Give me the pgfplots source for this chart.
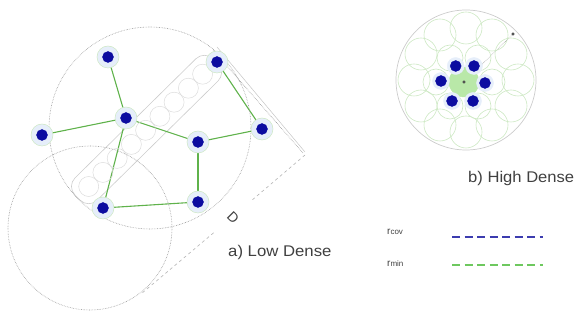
\documentclass[border=0pt]{standalone}
\usepackage{pgfplots}
\pgfplotsset{compat=1.18}
\usepackage{fontspec}
\setmainfont{Liberation Sans}
\definecolor{nodeblue}{RGB}{12,12,160}
\definecolor{edgegreen}{RGB}{95,178,75}
\definecolor{leggreen}{RGB}{110,200,95}
\definecolor{legblue}{RGB}{60,60,175}
\definecolor{palegreen}{RGB}{205,232,195}
\definecolor{dotgray}{RGB}{150,150,150}
\definecolor{halo}{RGB}{230,238,250}
\definecolor{blob}{RGB}{185,232,168}
\begin{document}
\begin{tikzpicture}
\begin{axis}[name=ax, x=1pt,y=1pt,y dir=reverse,xmin=0,xmax=579,ymin=0,ymax=312,hide axis]
% ---------- a) Low Dense ----------
% capsule with small circles
\addplot[gray!40, line width=0.6pt, rounded corners=12pt] coordinates {(88.5,208.7)(226.5,72.7)(204.5,50.3)(66.5,186.3)} -- cycle;
\addplot[gray!28, only marks, mark=o, mark size=10, mark options={gray!28, line width=0.5pt}] coordinates {
(88.7,186.5)(102.9,172.4)(117.2,158.4)(131.4,144.4)(145.6,130.3)(159.9,116.3)(174.1,102.2)(188.4,88.2)(202.6,74.2)};
% large dotted circles
\addplot[dotgray, only marks, mark=o, mark size=101, mark options={dotgray, densely dotted, line width=0.6pt}] coordinates {(150,128)};
\addplot[dotgray, only marks, mark=o, mark size=82, mark options={dotgray, densely dotted, line width=0.6pt}] coordinates {(90,228)};
% D rectangle edges
\addplot[dotgray, densely dotted, line width=0.6pt] coordinates {(213,50)(303,153)};
\addplot[gray!45, line width=0.5pt] coordinates {(217,47)(305,152)};
\addplot[gray!60, dashed, line width=0.6pt] coordinates {(305,155)(251.7,200.4)};
\addplot[gray!60, dashed, line width=0.6pt] coordinates {(213.6,232.8)(141,294)};
% halos around nodes
\addplot[palegreen, only marks, mark=*, mark size=11, mark options={fill=halo, draw=palegreen, line width=0.5pt}] coordinates {
(108,57)(217,62)(126,118)(42,135)(198,142)(262,129)(103,208)(198,202)};
% edges
\addplot[edgegreen, line width=1.1pt] coordinates {(108,57)(126,118)};
\addplot[edgegreen, line width=1.1pt] coordinates {(42,135)(126,118)};
\addplot[edgegreen, line width=1.1pt] coordinates {(126,118)(198,142)};
\addplot[edgegreen, line width=1.1pt] coordinates {(126,118)(103,208)};
\addplot[edgegreen, line width=1.1pt] coordinates {(103,208)(198,202)};
\addplot[edgegreen, line width=1.1pt] coordinates {(198,142)(198,202)};
\addplot[edgegreen, line width=1.1pt] coordinates {(198,142)(262,129)};
\addplot[edgegreen, line width=1.1pt] coordinates {(262,129)(217,62)};
% nodes
\addplot[nodeblue, only marks, mark=*, mark size=5.5, mark options={fill=nodeblue, draw=nodeblue}] coordinates {
(108,57)(217,62)(126,118)(42,135)(198,142)(262,129)(103,208)(198,202)};
\node[rotate=-45, font=\fontsize{14}{16}\selectfont, text=black!75] at (axis cs:233,218) {D};
\node[anchor=base west, inner sep=0pt, xscale=1.08, font=\fontsize{15.5}{17}\selectfont, text=black!75] at (axis cs:228,257) {a) Low Dense};
% ---------- b) High Dense ----------
\addplot[gray!40, only marks, mark=o, mark size=70, mark options={gray!40, line width=0.7pt}] coordinates {(466,80)};
\addplot[palegreen, only marks, mark=o, mark size=16, mark options={palegreen, line width=0.6pt}] coordinates {
(518,80)(511,106)(492,125)(466,132)(440,125)(421,106)(414,80)(421,54)(440,35)(466,28)(492,35)(511,54)};
\addplot[palegreen, only marks, mark=o, mark size=13, mark options={palegreen, line width=0.6pt}] coordinates {
(492,82)(478,106)(450,106)(436,82)(450,58)(478,58)};
\addplot[blob, only marks, mark=*, mark size=15, mark options={fill=blob, draw=none}] coordinates {(464,82)};
\addplot[halo, only marks, mark=*, mark size=8.5, mark options={fill=halo, draw=none}] coordinates {
(455.7,66)(474,66)(441,81)(485,83)(452,101)(473,101)};
\addplot[gray!70, densely dotted, line width=0.6pt] coordinates {(464,82)(513,34)};
\addplot[black!70, only marks, mark=*, mark size=1.3, mark options={fill=black!70, draw=none}] coordinates {(513,34)(464,82)};
\addplot[nodeblue, only marks, mark=*, mark size=5.5, mark options={fill=nodeblue, draw=nodeblue}] coordinates {
(455.7,66)(474,66)(441,81)(485,83)(452,101)(473,101)};
\node[anchor=base west, inner sep=0pt, xscale=1.07, font=\fontsize{15.5}{17}\selectfont, text=black!75] at (axis cs:468,183) {b) High Dense};
% ---------- legend ----------
\node[anchor=base west, inner sep=0pt, text=black!75] at (axis cs:387,235) {\fontsize{10}{11}\selectfont r\fontsize{8}{9}\selectfont cov};
\node[anchor=base west, inner sep=0pt, text=black!75] at (axis cs:387,267) {\fontsize{10}{11}\selectfont r\fontsize{8}{9}\selectfont min};
\addplot[legblue, dash pattern=on 8pt off 4.5pt, line width=1.3pt] coordinates {(452,237)(543,237)};
\addplot[leggreen, dash pattern=on 8pt off 4.5pt, line width=1.3pt] coordinates {(452,265)(543,265)};
\end{axis}
\pgfresetboundingbox
\useasboundingbox (ax.south west) rectangle (ax.north east);
\end{tikzpicture}
\end{document}
